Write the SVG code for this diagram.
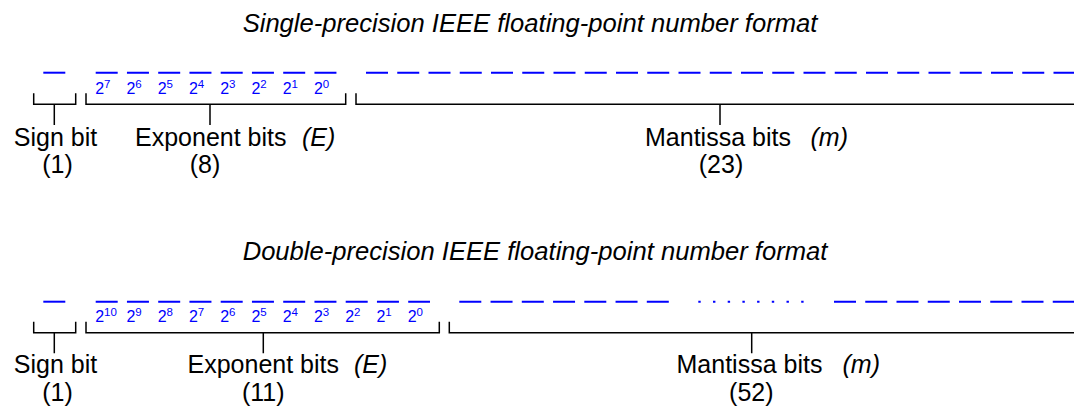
<svg xmlns="http://www.w3.org/2000/svg" width="1074" height="413" viewBox="0 0 1074 413">
<style>
text{font-family:"Liberation Sans",Arial,sans-serif;fill:#000}
.t{font-size:25.6px;font-style:italic;text-anchor:middle}
.l{font-size:25px}
.c{text-anchor:middle}
.i{font-style:italic}
.b{font-size:16px;fill:#0000ff}
.s{font-size:11.5px;fill:#0000ff}
.d{stroke:#0000ff;stroke-width:2;fill:none}
.k{stroke:#000;stroke-width:1.5;fill:none}
</style>
<rect width="1074" height="413" fill="#fff"/>
<g id="single">
<text class="t" x="530" y="31.5">Single-precision IEEE floating-point number format</text>
<g id="s-sign">
<line class="d" x1="43.3" y1="72.7" x2="65.3" y2="72.7"/>
<text class="l c" x="55.5" y="145.5">Sign bit</text>
<text class="l c" x="57.5" y="172.7">(1)</text>
</g>
<g id="s-exp">
<path class="d" d="M95.7 72.7h22m9.25 0h22m9.25 0h22m9.25 0h22m9.25 0h22m9.25 0h22m9.25 0h22m9.25 0h22"/>
<text x="95.2" y="94.3"><tspan class="b">2</tspan><tspan class="s" dy="-6.8">7</tspan></text>
<text x="126.45" y="94.3"><tspan class="b">2</tspan><tspan class="s" dy="-6.8">6</tspan></text>
<text x="157.7" y="94.3"><tspan class="b">2</tspan><tspan class="s" dy="-6.8">5</tspan></text>
<text x="188.95" y="94.3"><tspan class="b">2</tspan><tspan class="s" dy="-6.8">4</tspan></text>
<text x="220.2" y="94.3"><tspan class="b">2</tspan><tspan class="s" dy="-6.8">3</tspan></text>
<text x="251.45" y="94.3"><tspan class="b">2</tspan><tspan class="s" dy="-6.8">2</tspan></text>
<text x="282.7" y="94.3"><tspan class="b">2</tspan><tspan class="s" dy="-6.8">1</tspan></text>
<text x="313.95" y="94.3"><tspan class="b">2</tspan><tspan class="s" dy="-6.8">0</tspan></text>
<text class="l" y="145.5"><tspan x="135">Exponent bits</tspan><tspan class="i" x="302">(E)</tspan></text>
<text class="l c" x="205" y="172.7">(8)</text>
</g>
<g id="s-man">
<line class="d" x1="366" y1="72.7" x2="1076" y2="72.7" stroke-dasharray="22 9.25"/>
<text class="l" y="145.5"><tspan x="645">Mantissa bits</tspan><tspan class="i" x="810.5">(m)</tspan></text>
<text class="l c" x="721" y="172.7">(23)</text>
</g>
</g>
<g id="double">
<text class="t" x="535" y="259.5">Double-precision IEEE floating-point number format</text>
<g id="d-sign">
<line class="d" x1="43.3" y1="301.7" x2="65.3" y2="301.7"/>
<text class="l c" x="55.5" y="373.3">Sign bit</text>
<text class="l c" x="57.5" y="400.7">(1)</text>
</g>
<g id="d-exp">
<line class="d" x1="95.7" y1="301.7" x2="430" y2="301.7" stroke-dasharray="22 9.25"/>
<text x="95.2" y="322.3"><tspan class="b">2</tspan><tspan class="s" dy="-6.8">10</tspan></text>
<text x="126.45" y="322.3"><tspan class="b">2</tspan><tspan class="s" dy="-6.8">9</tspan></text>
<text x="157.7" y="322.3"><tspan class="b">2</tspan><tspan class="s" dy="-6.8">8</tspan></text>
<text x="188.95" y="322.3"><tspan class="b">2</tspan><tspan class="s" dy="-6.8">7</tspan></text>
<text x="220.2" y="322.3"><tspan class="b">2</tspan><tspan class="s" dy="-6.8">6</tspan></text>
<text x="251.45" y="322.3"><tspan class="b">2</tspan><tspan class="s" dy="-6.8">5</tspan></text>
<text x="282.7" y="322.3"><tspan class="b">2</tspan><tspan class="s" dy="-6.8">4</tspan></text>
<text x="313.95" y="322.3"><tspan class="b">2</tspan><tspan class="s" dy="-6.8">3</tspan></text>
<text x="345.2" y="322.3"><tspan class="b">2</tspan><tspan class="s" dy="-6.8">2</tspan></text>
<text x="376.45" y="322.3"><tspan class="b">2</tspan><tspan class="s" dy="-6.8">1</tspan></text>
<text x="407.7" y="322.3"><tspan class="b">2</tspan><tspan class="s" dy="-6.8">0</tspan></text>
<text class="l" y="373.3"><tspan x="187.5">Exponent bits</tspan><tspan class="i" x="354">(E)</tspan></text>
<text class="l c" x="263.3" y="400.7">(11)</text>
</g>
<g id="d-man">
<line class="d" x1="459.3" y1="301.7" x2="670" y2="301.7" stroke-dasharray="22 9.25"/>
<line class="d" x1="698.3" y1="301.7" x2="805" y2="301.7" stroke-dasharray="2.4 12.3" stroke-width="2.4"/>
<line class="d" x1="834" y1="301.7" x2="1076" y2="301.7" stroke-dasharray="22 9.25"/>
<text class="l" y="373.3"><tspan x="676.5">Mantissa bits</tspan><tspan class="i" x="842.5">(m)</tspan></text>
<text class="l c" x="751.3" y="400.7">(52)</text>
</g>
</g>
<g id="connectors">
<path class="k" d="M33.7 93.3V104.3H75.7V93.3M54.3 104.3V125"/>
<path class="k" d="M86 93.3V104.3H345.7V93.3M210 104.3V125"/>
<path class="k" d="M356 93.3V104.3H1076M720 104.3V125"/>
<path class="k" d="M33.7 321.7V332.7H75.7V321.7M54.3 332.7V353.3"/>
<path class="k" d="M86 321.7V332.7H439.3V321.7M263.3 332.7V353.3"/>
<path class="k" d="M449.3 321.7V332.7H1076M751.7 332.7V353.3"/>
</g>
</svg>
